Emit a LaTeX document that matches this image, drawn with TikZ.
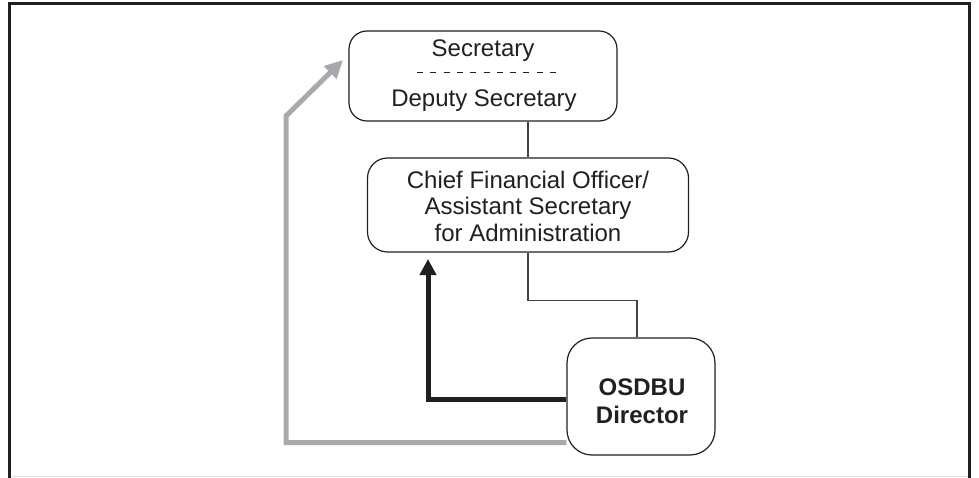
\documentclass[tikz,border=0pt]{standalone}
\usepackage{fontspec}
\setmainfont{Liberation Sans}
\usetikzlibrary{arrows.meta,calc}
\definecolor{frameblack}{HTML}{231F20}
\definecolor{arrowgray}{HTML}{A7A9AC}
\begin{document}
\begin{tikzpicture}[x=1pt,y=-1pt,
  orgbox/.style={draw=frameblack,line width=1.2pt,rounded corners=18pt,fill=white,inner sep=0pt},
  thinline/.style={draw=frameblack!85,line width=1.3pt},
  boxtext/.style={font=\fontsize{24}{26.5}\selectfont,align=center,inner sep=0pt,text=frameblack},
  blackarrow/.style={draw=frameblack,line width=5pt,-{Triangle[length=16pt,width=16pt]}},
  grayarrow/.style={draw=arrowgray,line width=5pt,-{Triangle[length=18pt,width=17pt]}}]
\useasboundingbox (0,0) rectangle (979,478);
% frame
\draw[draw=frameblack,line width=3pt] (9.5,478) -- (9.5,3.5) -- (969.5,3.5) -- (969.5,478);
\draw[draw=black!13,line width=1.5pt] (11,476.5) -- (968,476.5);
% boxes
\node[orgbox,minimum width=268pt,minimum height=90pt] (sec) at (483,76) {};
\node[boxtext] (sect) at (483,51) {Secretary};
\node[boxtext] (dept) at (484,101) {Deputy Secretary};
\coordinate (dl) at (417,73);
\coordinate (dr) at (557,73);
\draw[draw=frameblack,line width=1pt,dash pattern=on 6pt off 7.3pt] (dl) -- (dr);
\node[orgbox,minimum width=321pt,minimum height=94pt,rounded corners=20pt] (cfo) at (528,205) {};
\node[boxtext] (cfot) at (528,206) {Chief Financial Officer/\\Assistant Secretary\\for Administration};
\node[orgbox,minimum width=148pt,minimum height=117pt,rounded corners=25pt] (dir) at (641,396.5) {};
\node[boxtext,font=\fontsize{24}{28}\selectfont\bfseries] (dirt) at (642,401) {OSDBU\\Director};
% thin connectors
\draw[thinline] (sec.south -| cfo.north) -- (cfo.north);
\coordinate (k1) at ($(cfo.south)+(0,48)$);
\coordinate (k2) at ($(dir.north)+(-4,0)$);
\draw[thinline] (cfo.south) -- (k1) -- (k1 -| k2) -- (k2);
% black arrow
\coordinate (ba) at ($(dir.west)+(0,2.5)$);
\coordinate (bt) at (428,259);
\draw[blackarrow] (ba) -- (ba -| bt) -- (bt);
% gray arrow
\coordinate (ga) at ($(dir.west)+(0,46)$);
\coordinate (gc) at (286,116);
\coordinate (gt) at (343,60);
\draw[grayarrow] (ga) -- (ga -| gc) -- (gc) -- (gt);
\end{tikzpicture}
\end{document}
